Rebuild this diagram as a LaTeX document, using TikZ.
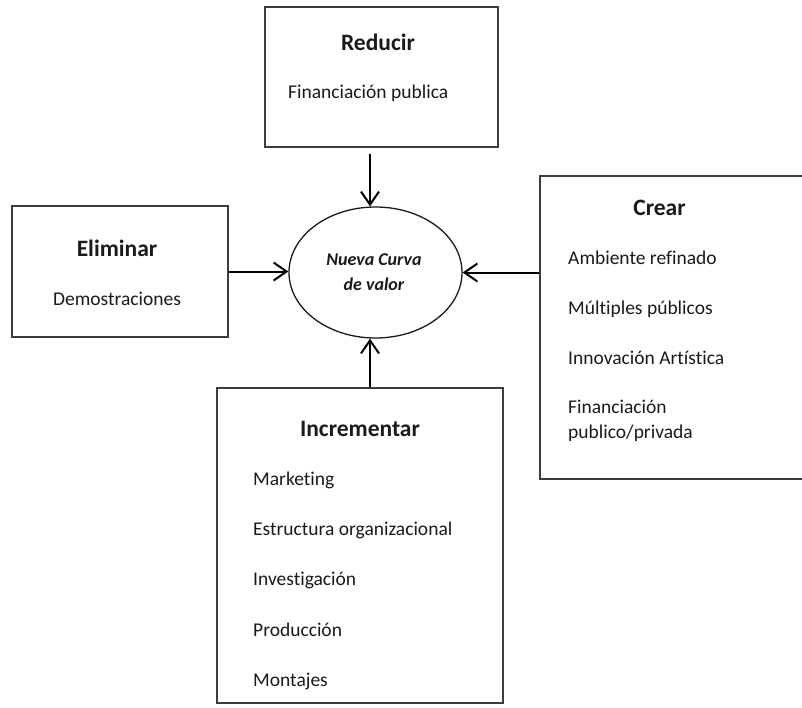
\documentclass[tikz,border=0pt]{standalone}
\usepackage{fontspec}
\setmainfont{Carlito}[Ligatures={NoCommon}]
\usetikzlibrary{arrows.meta,shapes.geometric}

\definecolor{edge}{HTML}{3C3C3C}
\definecolor{ink}{HTML}{1A1A1A}

\tikzset{
  box/.style={draw=edge, line width=1.4pt, rectangle, inner sep=0pt},
  hub/.style={draw=ink, line width=1.3pt, ellipse, inner sep=0pt},
  head/.style={anchor=base, inner sep=0pt, text=ink, font=\fontsize{23.5}{28}\selectfont\bfseries},
  item/.style={anchor=base west, inner sep=0pt, text=ink, font=\fontsize{19.5}{24}\selectfont},
  itemc/.style={anchor=base, inner sep=0pt, text=ink, font=\fontsize{19.5}{24}\selectfont},
  hubtext/.style={anchor=base, inner sep=0pt, text=ink, font=\fontsize{18}{22}\selectfont\bfseries\itshape},
  arr/.style={draw=black, line width=2pt, -{Straight Barb[length=13pt,width=18pt,line width=2pt]}}
}

\begin{document}
\begin{tikzpicture}[x=1pt,y=-1pt]
  \clip (0,0) rectangle (802,707);
  \fill[white] (0,0) rectangle (802,707);

  % outer boxes
  \node[box, minimum width=233pt, minimum height=140pt] (reducir) at (381.5,77) {};
  \node[box, minimum width=216pt, minimum height=131pt] (eliminar) at (120,271.5) {};
  \node[box, minimum width=290pt, minimum height=303pt] (crear) at (685,327.5) {};
  \node[box, minimum width=286pt, minimum height=315pt] (incrementar) at (360,545.5) {};

  % central ellipse
  \node[hub, minimum width=173pt, minimum height=131pt] (nueva) at (375.5,272.5) {};
  \node[hubtext] (nueva1) at (374,265) {Nueva Curva};
  \node[hubtext] (nueva2) at (374,290) {de valor};

  % Reducir
  \node[head] (reducirT) at (378,50) {Reducir};
  \node[item] (reducir1) at (288,98) {Financiación publica};

  % Eliminar
  \node[head] (eliminarT) at (117,256) {Eliminar};
  \node[itemc] (eliminar1) at (117,305) {Demostraciones};

  % Crear
  \node[head] (crearT) at (659.5,215) {Crear};
  \node[item] (crear1) at (568,264) {Ambiente refinado};
  \node[item] (crear2) at (568,314) {Múltiples públicos};
  \node[item] (crear3) at (568,364) {Innovación Artística};
  \node[item] (crear4) at (568,413) {Financiación};
  \node[item] (crear5) at (568,438) {publico/privada};

  % Incrementar
  \node[head] (incrementarT) at (360,436) {Incrementar};
  \node[item] (inc1) at (253,485) {Marketing};
  \node[item] (inc2) at (253,535) {Estructura organizacional};
  \node[item] (inc3) at (253,585) {Investigación};
  \node[item] (inc4) at (253,636) {Producción};
  \node[item] (inc5) at (253,686) {Montajes};

  % connectors into the ellipse
  \coordinate (axis) at (370,0);
  \draw[arr, shorten <=6pt] (reducir.south -| axis) -- (nueva.north -| axis);
  \draw[arr] (incrementar.north -| axis) -- (nueva.south -| axis);
  \draw[arr] (eliminar.east) -- (eliminar.east -| nueva.west);
  \draw[arr] (crear.west |- nueva.east) -- (nueva.east);
\end{tikzpicture}
\end{document}
